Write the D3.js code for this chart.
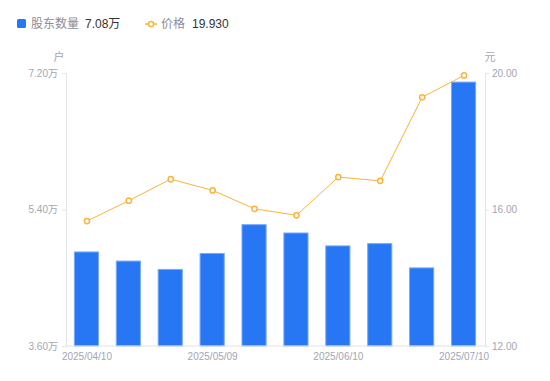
<!DOCTYPE html>
<html>
<head>
<meta charset="utf-8">
<script src="https://cdn.jsdelivr.net/npm/d3@7"></script>
<style>
  body { margin: 0; background: #fff; }
  text { font-family: "Noto Sans CJK SC", "Noto Sans", sans-serif; }
</style>
</head>
<body>
<div id="chart"></div>
<script>
var W = 550, H = 381,
    margin = {top: 73, right: 65, bottom: 35, left: 66}

// data
var dates = ["2025/04/10", "2025/04/18", "2025/04/30", "2025/05/09", "2025/05/20",
             "2025/05/30", "2025/06/10", "2025/06/20", "2025/06/30", "2025/07/10"]
var holders = [4.84, 4.72, 4.61, 4.82, 5.20, 5.09, 4.92, 4.95, 4.63, 7.08]   // 万户
var prices = [15.66, 16.26, 16.89, 16.56, 16.02, 15.83, 16.95, 16.84, 19.29, 19.93]
var leftTicks = [3.6, 5.4, 7.2]
var rightTicks = [12, 16, 20]
var shownDates = ["2025/04/10", "2025/05/09", "2025/06/10", "2025/07/10"]

var BAR = "#2777f4", LINE = "#fbb33c", AXIS = "#e3e3e8", LABEL = "#a3a5b3"
var NUMFONT = "'Liberation Sans', Arial, sans-serif"

var svg = d3.select("#chart").append("svg")
    .attr("width", W).attr("height", H)

var x = d3.scaleBand().domain(dates)
    .range([margin.left, W - margin.right])
    .paddingInner(0.4).paddingOuter(0.2)
var yL = d3.scaleLinear().domain([3.6, 7.2]).range([H - margin.bottom, margin.top])
var yR = d3.scaleLinear().domain([12, 20]).range([H - margin.bottom, margin.top])

// bars
svg.selectAll("rect.bar").data(holders).join("rect")
    .attr("class", "bar")
    .attr("x", (d, i) => x(dates[i]))
    .attr("width", x.bandwidth() - 1)
    .attr("y", d => yL(d))
    .attr("height", d => yL(3.6) - yL(d))
    .style("fill", BAR)
    .style("stroke", "#77a9f8")
    .style("stroke-width", 1)

// axes
var left = svg.append("g")
    .attr("transform", "translate(" + margin.left + ",0)")
    .call(d3.axisLeft(yL).tickValues(leftTicks).tickSize(4).tickPadding(4)
        .tickFormat(d => d.toFixed(2) + "万"))
var right = svg.append("g")
    .attr("transform", "translate(" + (W - margin.right) + ",0)")
    .call(d3.axisRight(yR).tickValues(rightTicks).tickSize(4).tickPadding(3)
        .tickFormat(d => d.toFixed(2)))
var bottom = svg.append("g")
    .attr("transform", "translate(0," + (H - margin.bottom) + ")")
    .call(d3.axisBottom(x).tickValues(shownDates).tickSize(0).tickPadding(7))

;[left, right, bottom].forEach(function(g) {
    g.select(".domain").style("stroke", AXIS)
    g.selectAll(".tick line").style("stroke", AXIS)
    g.selectAll("text").style("fill", LABEL).style("font-size", "10px")
        .style("font-family", NUMFONT)
})
bottom.select(".domain").attr("d", "M" + margin.left + ",0H" + (W - margin.right))
left.selectAll("text").each(function() {
    var t = d3.select(this), s = t.text()
    t.text(s.slice(0, -1))
    t.append("tspan").text("万").style("font-family", "'Noto Sans CJK SC'")
})

// unit labels
svg.append("text").attr("x", 59).attr("y", 61).attr("text-anchor", "middle")
    .style("fill", LABEL).style("font-size", "11px").text("户")
svg.append("text").attr("x", 490).attr("y", 61).attr("text-anchor", "middle")
    .style("fill", LABEL).style("font-size", "11px").text("元")

// price line
var line = d3.line()
    .x((d, i) => x(dates[i]) + x.bandwidth() / 2)
    .y(d => yR(d))
svg.append("path").datum(prices)
    .attr("d", line)
    .style("fill", "none").style("stroke", LINE).style("stroke-width", 1)
svg.selectAll("circle.pt").data(prices).join("circle")
    .attr("class", "pt")
    .attr("cx", (d, i) => x(dates[i]) + x.bandwidth() / 2)
    .attr("cy", d => yR(d))
    .attr("r", 2.6)
    .style("fill", "#fff").style("stroke", LINE).style("stroke-width", 1.5)

// legend
var lg = svg.append("g").style("font-size", "12px")
lg.append("rect").attr("x", 17).attr("y", 19).attr("width", 9).attr("height", 9)
    .attr("rx", 1.5).style("fill", BAR)
lg.append("text").attr("x", 31).attr("y", 28).style("fill", "#8b8d99").text("股东数量")
var v1 = lg.append("text").attr("x", 85).attr("y", 28).style("fill", "#333")
v1.append("tspan").style("font-family", NUMFONT)
    .text(d3.format(".2f")(holders[holders.length - 1]))
v1.append("tspan").text("万")
lg.append("line").attr("x1", 145).attr("x2", 157).attr("y1", 24).attr("y2", 24)
    .style("stroke", LINE).style("stroke-width", 1.5)
lg.append("circle").attr("cx", 151).attr("cy", 24).attr("r", 2.6)
    .style("fill", "#fff").style("stroke", LINE).style("stroke-width", 1.5)
lg.append("text").attr("x", 161).attr("y", 28).style("fill", "#8b8d99").text("价格")
lg.append("text").attr("x", 192).attr("y", 28).style("fill", "#333")
    .style("font-family", NUMFONT)
    .text(d3.format(".3f")(prices[prices.length - 1]))
</script>
</body>
</html>
